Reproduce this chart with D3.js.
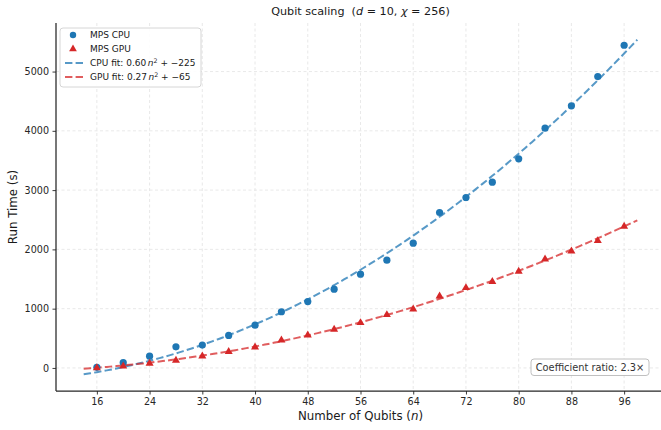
<!DOCTYPE html>
<html>
<head>
<meta charset="utf-8">
<script src="https://cdn.jsdelivr.net/npm/d3@7"></script>
<style>
  html, body { margin: 0; padding: 0; background: #fff; }
  svg { display: block; font-family: "DejaVu Sans", sans-serif; }
</style>
</head>
<body>
<svg id="chart" width="661" height="430"></svg>
<script>
// ---- data ----
const qubits = [16, 20, 24, 28, 32, 36, 40, 44, 48, 52, 56, 60, 64, 68, 72, 76, 80, 84, 88, 92, 96];
const cpuTimes = [10, 88, 199, 357, 385, 548, 722, 948, 1120, 1329, 1582, 1818, 2105, 2622, 2875, 3133, 3528, 4044, 4422, 4916, 5444];
const gpuTimes = [0, 30, 76, 126, 199, 273, 351, 469, 553, 649, 762, 897, 992, 1211, 1352, 1454, 1627, 1835, 1970, 2145, 2386];
const cpuFit = { a: 0.60, b: -225 };
const gpuFit = { a: 0.266, b: -64 };
const fitLabels = ["0.60", "\u2212225", "0.27", "\u221265"];
const fitRange = [14, 98];
const xTicks = [16, 24, 32, 40, 48, 56, 64, 72, 80, 88, 96];
const yTicks = [0, 1000, 2000, 3000, 4000, 5000];
const cpuColor = "#1f77b4", gpuColor = "#d62728";

const svg = d3.select("#chart");
const x = d3.scaleLinear().domain([9.8, 102.2]).range([56, 665]);
const y = d3.scaleLinear().domain([-389, 5819]).range([391, 23]);

// grid
const grid = svg.append("g");
grid.selectAll("line.vx").data(xTicks).join("line")
  .attr("x1", d => x(d)).attr("x2", d => x(d)).attr("y1", 23).attr("y2", 391)
  .attr("stroke", "#e3e3e3").attr("stroke-width", 0.8).attr("stroke-dasharray", "3,2.5");
grid.selectAll("line.hy").data(yTicks).join("line")
  .attr("y1", d => y(d)).attr("y2", d => y(d)).attr("x1", 56).attr("x2", 665)
  .attr("stroke", "#e3e3e3").attr("stroke-width", 0.8).attr("stroke-dasharray", "3,2.5");

// fit lines
const fitPts = d3.range(fitRange[0], fitRange[1] + 0.001, 0.5);
const line = d3.line().x(d => x(d[0])).y(d => y(d[1]));
function drawFit(p, color) {
  svg.append("path")
    .datum(fitPts.map(n => [n, p.a * n * n + p.b]))
    .attr("d", line).attr("fill", "none").attr("stroke", color)
    .attr("stroke-width", 2).attr("stroke-opacity", 0.75)
    .attr("stroke-dasharray", "7.4,3.2");
}
drawFit(cpuFit, cpuColor);
drawFit(gpuFit, gpuColor);

// markers
svg.append("g").selectAll("circle").data(qubits).join("circle")
  .attr("cx", d => x(d)).attr("cy", (d, i) => y(cpuTimes[i])).attr("r", 3.6)
  .attr("fill", cpuColor);
const tri = d3.symbol().type(d3.symbolTriangle).size(28);
svg.append("g").selectAll("path").data(qubits).join("path")
  .attr("d", tri)
  .attr("transform", (d, i) => `translate(${x(d)},${y(gpuTimes[i])})`)
  .attr("fill", gpuColor);

// axes
const xAxis = svg.append("g").attr("transform", "translate(0,391)")
  .call(d3.axisBottom(x).tickValues(xTicks).tickSize(3.5).tickPadding(3.5));
const yAxis = svg.append("g").attr("transform", "translate(56,0)")
  .call(d3.axisLeft(y).tickValues(yTicks).tickSize(3.5).tickPadding(3.5).tickFormat(d3.format("d")));
[xAxis, yAxis].forEach(g => {
  g.select(".domain").attr("stroke", "#262626").attr("stroke-width", 1.25);
  g.selectAll(".tick line").attr("stroke", "#262626").attr("stroke-width", 0.9);
  g.selectAll(".tick text").attr("fill", "#262626").style("font-size", "9.6px")
    .style("font-family", "DejaVu Sans");
});
xAxis.select(".domain").attr("d", "M56,0H665");
yAxis.select(".domain").attr("d", "M0,23V391");

// title
const title = svg.append("text").attr("x", 360.5).attr("y", 15).attr("text-anchor", "middle")
  .style("font-size", "11.2px").style("white-space", "pre").attr("fill", "#1a1a1a");
title.append("tspan").text("Qubit scaling\u00a0\u00a0(");
title.append("tspan").text("d").style("font-style", "italic");
title.append("tspan").text(" = 10, ");
title.append("tspan").text("χ").style("font-style", "italic");
title.append("tspan").text(" = 256)");

// axis labels
const xl = svg.append("text").attr("x", 360.5).attr("y", 420).attr("text-anchor", "middle")
  .style("font-size", "11.8px").attr("fill", "#1a1a1a");
xl.append("tspan").text("Number of Qubits (");
xl.append("tspan").text("n").style("font-style", "italic");
xl.append("tspan").text(")");
svg.append("text").attr("transform", "translate(17,207) rotate(-90)").attr("text-anchor", "middle")
  .style("font-size", "11.8px").attr("fill", "#1a1a1a").text("Run Time (s)");

// legend
const lg = svg.append("g");
lg.append("rect").attr("x", 60).attr("y", 28).attr("width", 141).attr("height", 59).attr("rx", 3)
  .attr("fill", "#fff").attr("fill-opacity", 0.9).attr("stroke", "#cccccc").attr("stroke-width", 0.8);
const rows = [
  { label: "MPS CPU", type: "circle", color: cpuColor },
  { label: "MPS GPU", type: "tri", color: gpuColor },
  { label: "CPU fit: ", k: 0, type: "line", color: cpuColor },
  { label: "GPU fit: ", k: 2, type: "line", color: gpuColor }
];
const rowY = [35, 49, 63, 77];
rows.forEach((r, i) => {
  const yy = rowY[i];
  if (r.type === "circle") lg.append("circle").attr("cx", 73).attr("cy", yy).attr("r", 3.2).attr("fill", r.color);
  else if (r.type === "tri") lg.append("path").attr("d", d3.symbol().type(d3.symbolTriangle).size(26))
    .attr("transform", `translate(73,${yy})`).attr("fill", r.color);
  else lg.append("line").attr("x1", 65).attr("x2", 83).attr("y1", yy).attr("y2", yy)
    .attr("stroke", r.color).attr("stroke-width", 2).attr("stroke-opacity", 0.75).attr("stroke-dasharray", "7.4,3.2");
  const t = lg.append("text").attr("x", 90).attr("y", yy + 3.3).style("font-size", "9px").attr("fill", "#1a1a1a");
  if (r.k !== undefined) {
    t.append("tspan").text(r.label + fitLabels[r.k]);
    t.append("tspan").text("n").style("font-style", "italic").attr("dx", 1.5);
    t.append("tspan").text("2").attr("dy", -3.5).style("font-size", "6.3px");
    t.append("tspan").text(" + " + fitLabels[r.k + 1]).attr("dy", 3.5);
  } else t.text(r.label);
});

// coefficient ratio box
const cb = svg.append("g");
cb.append("rect").attr("x", 531).attr("y", 359).attr("width", 118).attr("height", 16.5).attr("rx", 3)
  .attr("fill", "#fff").attr("stroke", "#b0b0b0").attr("stroke-width", 0.8);
cb.append("text").attr("x", 590).attr("y", 371).attr("text-anchor", "middle")
  .style("font-size", "9.8px").attr("fill", "#333").text("Coefficient ratio: 2.3\u00d7");
</script>
</body>
</html>
